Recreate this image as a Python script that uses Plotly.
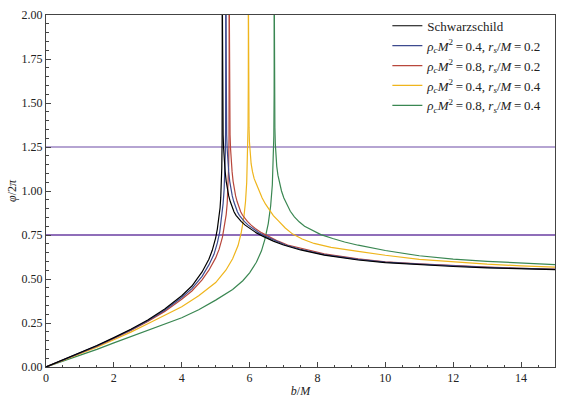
import plotly.graph_objects as go

# ---------------- data ----------------
series_names = [
    "Schwarzschild",
    "<i>ρ<sub>c</sub>M</i><sup>2</sup>\u2009=\u20090.4, <i>r<sub>s</sub></i>/<i>M</i>\u2009=\u20090.2",
    "<i>ρ<sub>c</sub>M</i><sup>2</sup>\u2009=\u20090.8, <i>r<sub>s</sub></i>/<i>M</i>\u2009=\u20090.2",
    "<i>ρ<sub>c</sub>M</i><sup>2</sup>\u2009=\u20090.4, <i>r<sub>s</sub></i>/<i>M</i>\u2009=\u20090.4",
    "<i>ρ<sub>c</sub>M</i><sup>2</sup>\u2009=\u20090.8, <i>r<sub>s</sub></i>/<i>M</i>\u2009=\u20090.4",
]
series_colors = ["#000000", "#3d4a8e", "#b8473c", "#efb51c", "#3a8752"]

# Schwarzschild
schw_b_left = [0, 0.5, 1.0, 1.5, 2.0, 2.5, 3.0, 3.5, 4.0, 4.3, 4.6, 4.8, 4.9, 5.0, 5.05, 5.1,
               5.13, 5.15, 5.17, 5.18, 5.19, 5.194, 5.1955, 5.196]
schw_v_left = [0, 0.040, 0.080, 0.122, 0.167, 0.214, 0.267, 0.330, 0.405, 0.460, 0.540, 0.612,
               0.663, 0.733, 0.785, 0.850, 0.905, 0.965, 1.055, 1.130, 1.290, 1.460, 1.640, 2.05]
schw_b_right = [5.1963, 5.197, 5.199, 5.203, 5.21, 5.22, 5.235, 5.255, 5.28, 5.31, 5.345, 5.385,
                5.43, 5.48, 5.54, 5.6, 5.66, 5.75, 5.87, 6.0, 6.2, 6.4, 6.7, 7.0,
                7.5, 8.2, 9.2, 10, 11, 12, 13, 14, 15]
schw_v_right = [2.10, 1.83, 1.64, 1.50, 1.40, 1.32, 1.24, 1.17, 1.11, 1.055, 1.01, 0.972,
                0.94, 0.91, 0.882, 0.862, 0.847, 0.827, 0.806, 0.787, 0.762, 0.742, 0.715, 0.693,
                0.665, 0.636, 0.608, 0.593, 0.581, 0.571, 0.563, 0.557, 0.553]

# rho_c M^2 = 0.4, r_s/M = 0.2
s1_b_left = [0, 0.5, 1, 1.5, 2, 2.5, 3, 3.5, 4, 4.3, 4.6, 4.8, 4.95, 5.05, 5.12, 5.18, 5.22,
             5.25, 5.27, 5.285, 5.293, 5.298, 5.3]
s1_v_left = [0, 0.040, 0.079, 0.120, 0.165, 0.211, 0.263, 0.323, 0.395, 0.445, 0.515, 0.580,
             0.640, 0.705, 0.768, 0.850, 0.930, 1.010, 1.100, 1.220, 1.360, 1.600, 2.05]
s1_b_right = [5.3003, 5.301, 5.303, 5.307, 5.314, 5.324, 5.339, 5.359, 5.384, 5.414, 5.449,
              5.489, 5.533, 5.582, 5.64, 5.698, 5.756, 5.843, 5.958, 6.083, 6.28, 6.475, 6.77,
              7.06, 7.5, 8.2, 9.2, 10, 11, 12, 13, 14, 15]
s1_v_right = [2.10, 1.83, 1.64, 1.50, 1.40, 1.32, 1.24, 1.17, 1.11, 1.055, 1.01, 0.972,
              0.94, 0.91, 0.882, 0.862, 0.847, 0.827, 0.806, 0.787, 0.762, 0.742, 0.715, 0.693,
              0.669, 0.639, 0.611, 0.596, 0.584, 0.574, 0.566, 0.560, 0.555]

# rho_c M^2 = 0.8, r_s/M = 0.2
s2_b_left = [0, 0.5, 1, 1.5, 2, 2.5, 3, 3.5, 4, 4.3, 4.6, 4.8, 5.0, 5.1, 5.2, 5.26, 5.31, 5.34,
             5.365, 5.383, 5.393, 5.398, 5.4]
s2_v_left = [0, 0.039, 0.078, 0.118, 0.162, 0.207, 0.258, 0.316, 0.385, 0.432, 0.495, 0.550,
             0.620, 0.668, 0.738, 0.797, 0.866, 0.930, 1.020, 1.140, 1.300, 1.560, 2.05]
s2_b_right = [5.4003, 5.401, 5.403, 5.407, 5.414, 5.424, 5.439, 5.459, 5.484, 5.514, 5.549,
              5.588, 5.632, 5.68, 5.737, 5.793, 5.85, 5.935, 6.045, 6.165, 6.36, 6.55, 6.84,
              7.12, 7.5, 8.2, 9.2, 10, 11, 12, 13, 14, 15]
s2_v_right = [2.10, 1.83, 1.64, 1.50, 1.40, 1.32, 1.24, 1.17, 1.11, 1.055, 1.01, 0.972,
              0.94, 0.91, 0.882, 0.862, 0.847, 0.827, 0.806, 0.787, 0.762, 0.742, 0.715, 0.693,
              0.675, 0.643, 0.614, 0.598, 0.586, 0.576, 0.568, 0.561, 0.556]

# rho_c M^2 = 0.4, r_s/M = 0.4
s3_b_left = [0, 0.5, 1, 1.5, 2, 2.5, 3, 3.5, 4, 4.5, 5.0, 5.3, 5.5, 5.66, 5.75, 5.83, 5.88,
             5.915, 5.94, 5.955, 5.962, 5.965]
s3_v_left = [0, 0.037, 0.074, 0.113, 0.155, 0.198, 0.246, 0.292, 0.342, 0.405, 0.480, 0.550,
             0.615, 0.690, 0.760, 0.850, 0.940, 1.050, 1.190, 1.370, 1.620, 2.05]
s3_b_right = [5.9653, 5.967, 5.970, 5.975, 5.983, 5.995, 6.015, 6.045, 6.085, 6.135, 6.2, 6.28,
              6.37, 6.47, 6.58, 6.7, 6.85, 7.05, 7.27, 7.55, 7.9, 8.4, 9.2, 10, 11, 12, 13, 14,
              15]
s3_v_right = [2.10, 1.80, 1.60, 1.46, 1.36, 1.28, 1.21, 1.155, 1.11, 1.07, 1.04, 1.0, 0.96,
              0.925, 0.89, 0.86, 0.83, 0.79, 0.755, 0.727, 0.702, 0.68, 0.657, 0.635, 0.612,
              0.596, 0.584, 0.575, 0.567]

# rho_c M^2 = 0.8, r_s/M = 0.4
s4_b_left = [0, 0.5, 1, 1.5, 2, 2.5, 3, 3.5, 4, 4.5, 5.0, 5.5, 5.8, 6.0, 6.2, 6.35, 6.45, 6.55,
             6.62, 6.67, 6.70, 6.715, 6.723, 6.727]
s4_v_left = [0, 0.033, 0.066, 0.100, 0.137, 0.173, 0.210, 0.244, 0.280, 0.325, 0.380, 0.440,
             0.490, 0.535, 0.595, 0.660, 0.725, 0.815, 0.915, 1.035, 1.165, 1.315, 1.550, 2.05]
s4_b_right = [6.7275, 6.729, 6.732, 6.737, 6.745, 6.757, 6.775, 6.8, 6.835, 6.88, 6.94, 7.01,
              7.1, 7.2, 7.32, 7.46, 7.62, 7.85, 8.1, 8.45, 8.8, 9.2, 10, 11, 12, 13, 14, 15]
s4_v_right = [2.10, 1.80, 1.60, 1.46, 1.36, 1.27, 1.20, 1.14, 1.09, 1.045, 1.0, 0.96, 0.92,
              0.885, 0.853, 0.825, 0.80, 0.775, 0.752, 0.73, 0.71, 0.692, 0.662, 0.632, 0.613,
              0.600, 0.590, 0.582]

hline_values = [1.25, 0.75]
hline_colors = ["#9d86c3", "#6a3ea2"]

x_tick_vals = [0, 2, 4, 6, 8, 10, 12, 14]
y_tick_vals = [0.0, 0.25, 0.5, 0.75, 1.0, 1.25, 1.5, 1.75, 2.0]

all_series = [
    (schw_b_left, schw_v_left, schw_b_right, schw_v_right),
    (s1_b_left, s1_v_left, s1_b_right, s1_v_right),
    (s2_b_left, s2_v_left, s2_b_right, s2_v_right),
    (s3_b_left, s3_v_left, s3_b_right, s3_v_right),
    (s4_b_left, s4_v_left, s4_b_right, s4_v_right),
]

# ---------------- figure ----------------
FONT = "Liberation Serif"
fig = go.Figure()

for yv, col in zip(hline_values, hline_colors):
    fig.add_hline(y=yv, line=dict(color=col, width=1.5), layer="below")

for i in reversed(range(len(all_series))):
    bl, vl, br, vr = all_series[i]
    xs = list(bl) + [None] + list(br)
    ys = list(vl) + [None] + list(vr)
    fig.add_trace(go.Scatter(
        x=xs, y=ys, mode="lines", name=series_names[i],
        line=dict(color=series_colors[i], width=1.2),
        connectgaps=False, legendrank=i + 1,
    ))

axis_common = dict(
    showgrid=False, zeroline=False, showline=True, linecolor="#444", linewidth=1,
    mirror=True, ticks="inside", ticklen=5, tickcolor="#444",
    tickfont=dict(family=FONT, size=12, color="#222"),
    minor=dict(ticks="inside", ticklen=2.5, tickcolor="#444"),
)

fig.update_xaxes(range=[0, 15], tickvals=x_tick_vals, minor_dtick=0.5,
                 title=dict(text="<i>b</i>/<i>M</i>", font=dict(family=FONT, size=12, color="#222"),
                            standoff=2),
                 **axis_common)
fig.update_yaxes(range=[0, 2], tickvals=y_tick_vals, tickformat=".2f", minor_dtick=0.05,
                 title=dict(text="<i>φ</i>/2<i>π</i>", font=dict(family=FONT, size=12, color="#222"),
                            standoff=2),
                 **axis_common)

fig.update_layout(
    width=564, height=404,
    margin=dict(l=46, r=8, t=11, b=33),
    paper_bgcolor="white", plot_bgcolor="white",
    showlegend=True,
    legend=dict(x=0.985, y=1.012, xanchor="right", yanchor="top",
                bgcolor="rgba(255,255,255,0)", borderwidth=0,
                font=dict(family=FONT, size=13, color="#222"),
                tracegroupgap=0, itemwidth=30),
    font=dict(family=FONT),
)

fig.write_html("out.html")
